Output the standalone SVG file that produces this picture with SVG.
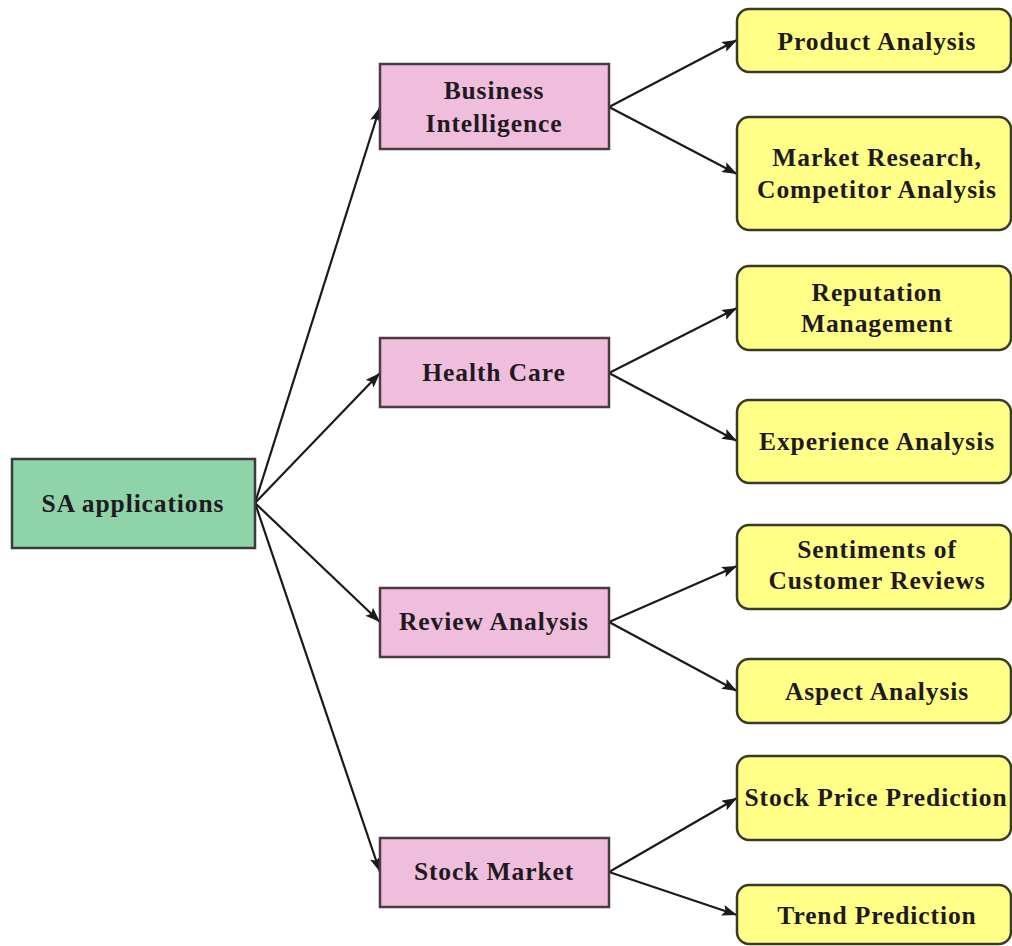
<svg xmlns="http://www.w3.org/2000/svg" width="1012" height="946" viewBox="0 0 1012 946">
  <defs>
    <marker id="arrow" viewBox="0 0 15 11" refX="15" refY="5.5" markerWidth="15" markerHeight="11" markerUnits="userSpaceOnUse" orient="auto">
      <path d="M0,0 L15,5.5 L0,11 L3,5.5 Z" fill="#1a1a1a"/>
    </marker>
    <style>
      .root { fill: #8fd4a8; stroke: #3a3a3a; stroke-width: 2.5; }
      .mid { fill: #f0bedd; stroke: #4a3a44; stroke-width: 2.5; }
      .leaf { fill: #ffff88; stroke: #3a3a2a; stroke-width: 2.5; }
      .lbl { font-family: "Liberation Serif", "Times New Roman", serif; font-weight: bold; font-size: 25.5px; fill: #1f1a1f; text-anchor: middle; letter-spacing: 0.9px; }
      .edge { stroke: #1a1a1a; stroke-width: 2.2; fill: none; marker-end: url(#arrow); }
    </style>
  </defs>
  <rect width="1012" height="946" fill="#ffffff"/>

  <g id="connectors">
    <line class="edge" x1="255" y1="503" x2="380" y2="107"/>
    <line class="edge" x1="255" y1="503" x2="380" y2="373"/>
    <line class="edge" x1="255" y1="503" x2="380" y2="622"/>
    <line class="edge" x1="255" y1="503" x2="380" y2="872"/>
    <line class="edge" x1="609" y1="107" x2="737" y2="40"/>
    <line class="edge" x1="609" y1="107" x2="737" y2="174"/>
    <line class="edge" x1="609" y1="373" x2="737" y2="308"/>
    <line class="edge" x1="609" y1="373" x2="737" y2="441"/>
    <line class="edge" x1="609" y1="622" x2="737" y2="566"/>
    <line class="edge" x1="609" y1="622" x2="737" y2="691"/>
    <line class="edge" x1="609" y1="872" x2="737" y2="798"/>
    <line class="edge" x1="609" y1="872" x2="737" y2="915"/>
  </g>

  <g id="sa-applications">
    <rect class="root" x="12" y="459" width="243" height="89"/>
    <text class="lbl" x="133" y="512">SA applications</text>
  </g>

  <g id="business-intelligence">
    <rect class="mid" x="380" y="64" width="229" height="85"/>
    <text class="lbl" x="494" y="99">Business</text>
    <text class="lbl" x="494" y="132">Intelligence</text>
  </g>
  <g id="health-care">
    <rect class="mid" x="380" y="338" width="229" height="69"/>
    <text class="lbl" x="494" y="381">Health Care</text>
  </g>
  <g id="review-analysis">
    <rect class="mid" x="380" y="588" width="229" height="69"/>
    <text class="lbl" x="494" y="630">Review Analysis</text>
  </g>
  <g id="stock-market">
    <rect class="mid" x="380" y="838" width="229" height="69"/>
    <text class="lbl" x="494" y="880">Stock Market</text>
  </g>

  <g id="product-analysis">
    <rect class="leaf" x="737" y="9" width="274" height="63" rx="12"/>
    <text class="lbl" x="877" y="50">Product Analysis</text>
  </g>
  <g id="market-research">
    <rect class="leaf" x="737" y="117" width="274" height="113" rx="12"/>
    <text class="lbl" x="877" y="166">Market Research,</text>
    <text class="lbl" x="877" y="198">Competitor Analysis</text>
  </g>
  <g id="reputation-management">
    <rect class="leaf" x="737" y="266" width="274" height="84" rx="12"/>
    <text class="lbl" x="877" y="301">Reputation</text>
    <text class="lbl" x="877" y="332">Management</text>
  </g>
  <g id="experience-analysis">
    <rect class="leaf" x="737" y="400" width="274" height="83" rx="12"/>
    <text class="lbl" x="877" y="450">Experience Analysis</text>
  </g>
  <g id="sentiments">
    <rect class="leaf" x="737" y="525" width="274" height="84" rx="12"/>
    <text class="lbl" x="877" y="558">Sentiments of</text>
    <text class="lbl" x="877" y="589">Customer Reviews</text>
  </g>
  <g id="aspect-analysis">
    <rect class="leaf" x="737" y="659" width="274" height="64" rx="12"/>
    <text class="lbl" x="877" y="700">Aspect Analysis</text>
  </g>
  <g id="stock-price-prediction">
    <rect class="leaf" x="737" y="756" width="274" height="84" rx="12"/>
    <text class="lbl" x="876" y="806">Stock Price Prediction</text>
  </g>
  <g id="trend-prediction">
    <rect class="leaf" x="737" y="885" width="274" height="59" rx="12"/>
    <text class="lbl" x="877" y="924">Trend Prediction</text>
  </g>
</svg>
